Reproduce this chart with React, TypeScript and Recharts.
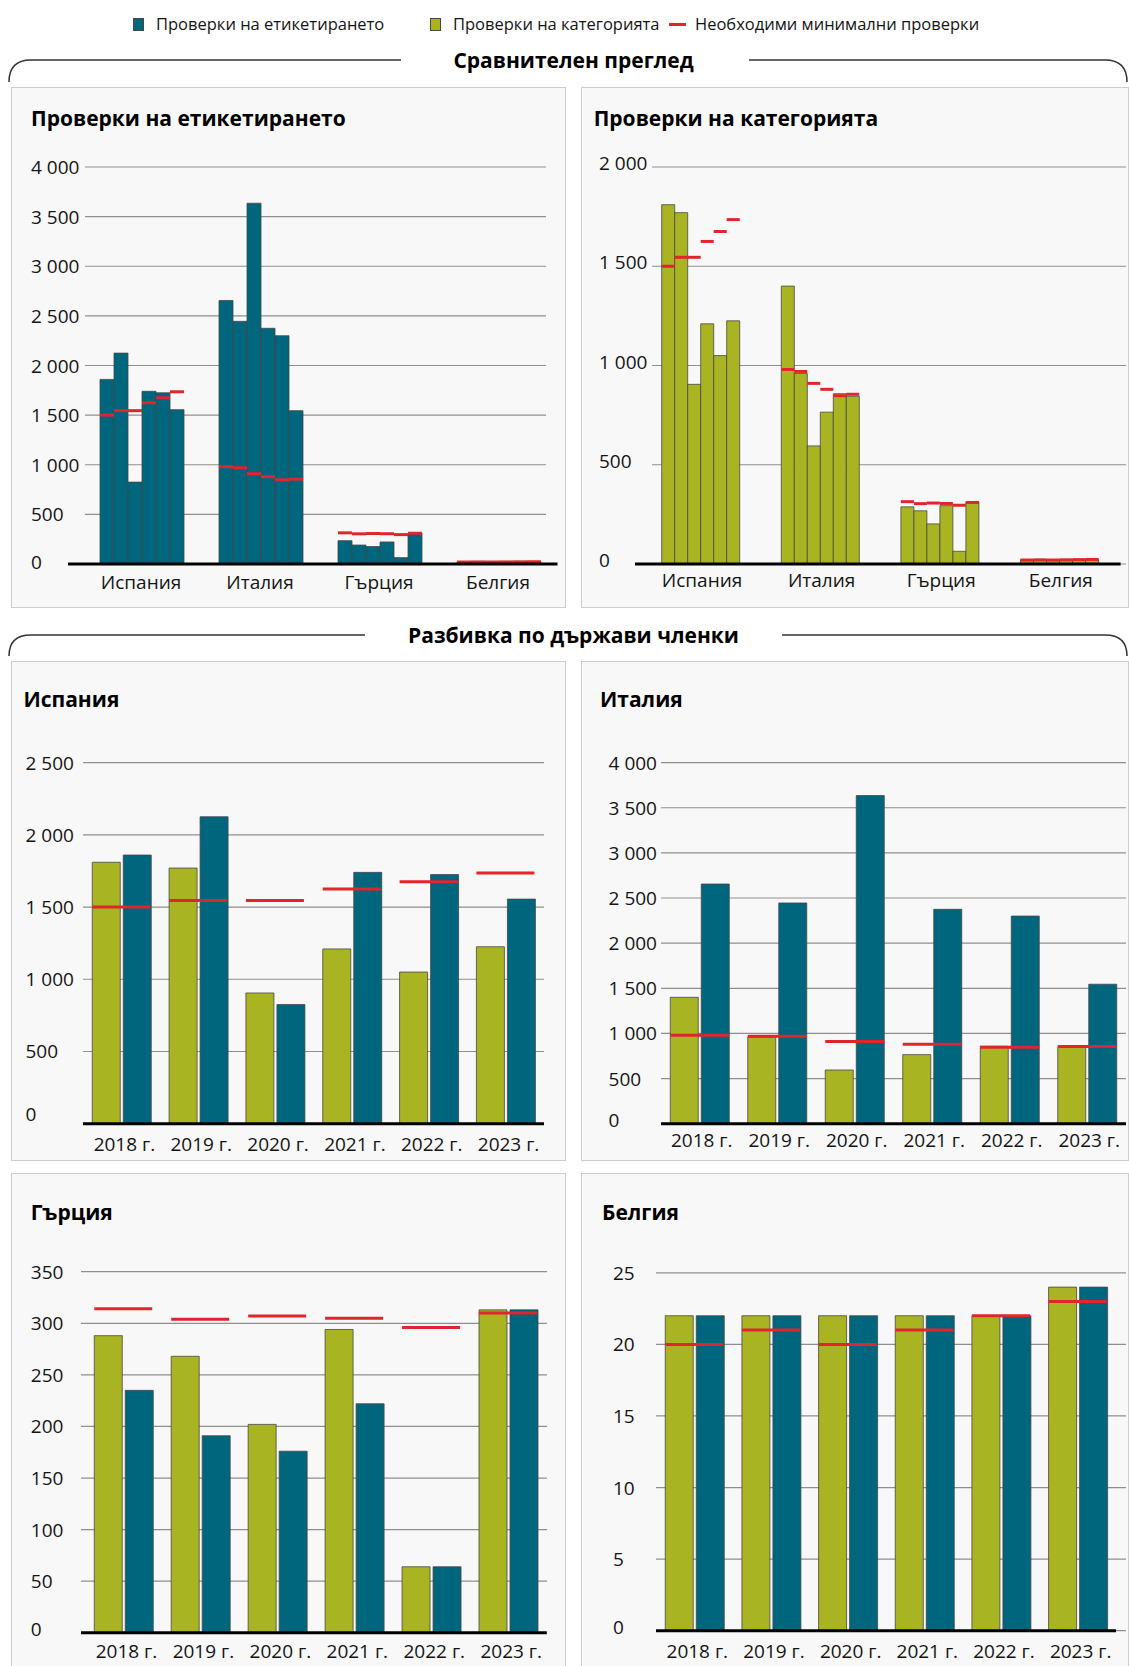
import React from 'react';
import { BarChart, Bar, XAxis, YAxis, CartesianGrid } from 'recharts';

const FONT = '"Open Sans", "Noto Sans", "DejaVu Sans", sans-serif';
const BLUE = '#00667d';
const GREEN = '#a8b421';
const RED = '#e0262d';
const OUTLINE = '#474747';
const TEXT = '#141414';

// ---------- data ----------
const years = ['2018 г.', '2019 г.', '2020 г.', '2021 г.', '2022 г.', '2023 г.'];
const countries = ['Испания', 'Италия', 'Гърция', 'Белгия'];

const spainCategory = [1810, 1770, 905, 1210, 1050, 1225];
const spainLabelling = [1860, 2125, 825, 1740, 1725, 1555];
const spainMinimum = [1500, 1545, 1545, 1625, 1675, 1735];

const italyCategory = [1400, 960, 595, 765, 858, 845];
const italyLabelling = [2655, 2445, 3635, 2375, 2300, 1545];
const italyMinimum = [980, 970, 910, 880, 848, 855];

const greeceCategory = [288, 268, 202, 294, 64, 313];
const greeceLabelling = [235, 191, 176, 222, 64, 313];
const greeceMinimum = [314, 304, 307, 305, 296, 310];

const belgiumCategory = [22, 22, 22, 22, 22, 24];
const belgiumLabelling = [22, 22, 22, 22, 22, 24];
const belgiumMinimum = [20, 21, 20, 21, 22, 23];

const labellingTicks = [0, 500, 1000, 1500, 2000, 2500, 3000, 3500, 4000];
const categoryTicks = [0, 500, 1000, 1500, 2000];
const spainTicks = [0, 500, 1000, 1500, 2000, 2500];
const italyTicks = [0, 500, 1000, 1500, 2000, 2500, 3000, 3500, 4000];
const greeceTicks = [0, 50, 100, 150, 200, 250, 300, 350];
const belgiumTicks = [0, 5, 10, 15, 20, 25];

const legendLabels = ['Проверки на етикетирането', 'Проверки на категорията', 'Необходими минимални проверки'];
const sectionTitles = ['Сравнителен преглед', 'Разбивка по държави членки'];
const overviewTitles = ['Проверки на етикетирането', 'Проверки на категорията'];

const countryCategory = [spainCategory, italyCategory, greeceCategory, belgiumCategory];
const countryLabelling = [spainLabelling, italyLabelling, greeceLabelling, belgiumLabelling];
const countryMinimum = [spainMinimum, italyMinimum, greeceMinimum, belgiumMinimum];

const buildOverview = (series: number[][]) =>
  countries.map((c, ci) => {
    const row: any = { country: c };
    years.forEach((_, yi) => {
      row[`v${yi}`] = series[ci][yi];
      row[`m${yi}`] = countryMinimum[ci][yi];
    });
    return row;
  });

const buildCountry = (ci: number) =>
  years.map((y, yi) => ({
    year: y,
    category: countryCategory[ci][yi],
    labelling: countryLabelling[ci][yi],
    minimum: countryMinimum[ci][yi],
  }));

const fmt = (v: number) =>
  v >= 1000 ? `${Math.floor(v / 1000)} ${String(v % 1000).padStart(3, '0')}` : String(v);

// ---------- shapes / ticks ----------
const DashShape = (p: any) => {
  const { x, y, width } = p;
  if (x == null || y == null) return <g />;
  return <line x1={x} x2={x + width} y1={y} y2={y} stroke={RED} strokeWidth={3} />;
};

const makeYTick = (labelX: number, dy: number, zeroDy: number) => (p: any) => {
  const v = p.payload.value;
  return (
    <text
      x={labelX}
      y={p.y + (v === 0 ? zeroDy : dy)}
      textAnchor="start"
      dominantBaseline="central"
      fontSize={19}
      fill={TEXT}
      fontFamily={FONT}
    >
      {fmt(v)}
    </text>
  );
};

const makeXTick = (dy: number, dx: number) => (p: any) => (
  <text
    x={p.x + dx}
    y={p.y + dy}
    textAnchor="middle"
    dominantBaseline="central"
    fontSize={19}
    fill={TEXT}
    fontFamily={FONT}
  >
    {p.payload.value}
  </text>
);

type Cfg = {
  width: number;
  height: number;
  top: number;
  plotLeft: number;
  plotRight: number;
  plotBottom: number;
  padLeft: number;
  padRight: number;
  gridX: number;
  gridW: number;
  gap: number;
  barGap: number;
  labelX: number;
  dy: number;
  zeroDy: number;
  xLabelDy: number;
  xLabelDx: number;
  ticks: number[];
  max: number;
};

function Chart({ cfg, data, catKey, series, minKeys }: { cfg: Cfg; data: any[]; catKey: string; series: { key: string; fill: string }[]; minKeys: string[] }) {
  const pad = { left: cfg.padLeft, right: cfg.padRight };
  return (
    <BarChart
      width={cfg.width}
      height={cfg.height}
      data={data}
      margin={{ top: cfg.top, right: cfg.width - cfg.plotRight, bottom: 0, left: 0 }}
      barCategoryGap={cfg.gap}
      barGap={cfg.barGap}
      style={{ fontFamily: FONT }}
    >
      <CartesianGrid vertical={false} stroke="#8f8f8f" strokeWidth={1.2} x={cfg.gridX} width={cfg.gridW} />
      <XAxis
        dataKey={catKey}
        height={cfg.height - cfg.plotBottom}
        padding={pad}
        tickLine={false}
        tickSize={0}
        tickMargin={0}
        interval={0}
        axisLine={{ stroke: '#000', strokeWidth: 3 }}
        tick={makeXTick(cfg.xLabelDy, cfg.xLabelDx)}
      />
      <XAxis xAxisId="m" dataKey={catKey} hide padding={pad} />
      <YAxis
        width={cfg.plotLeft}
        type="number"
        domain={[0, cfg.max]}
        ticks={cfg.ticks}
        interval={0}
        axisLine={false}
        tickLine={false}
        tick={makeYTick(cfg.labelX, cfg.dy, cfg.zeroDy)}
      />
      {series.map((s) => (
        <Bar key={s.key} dataKey={s.key} fill={s.fill} stroke={OUTLINE} strokeWidth={0.8} isAnimationActive={false} />
      ))}
      {minKeys.map((k) => (
        <Bar key={k} xAxisId="m" dataKey={k} shape={DashShape} isAnimationActive={false} />
      ))}
    </BarChart>
  );
}

function Panel({ left, top, width, height, title, titleX, titleY, children }: any) {
  return (
    <div style={{ position: 'absolute', left, top, width, height, background: '#f8f8f8' }}>
      <div style={{ position: 'absolute', left: 0, top: 0 }}>{children}</div>
      <div
        style={{
          position: 'absolute',
          left: titleX,
          top: titleY - 15,
          lineHeight: '30px',
          fontSize: 21,
          fontWeight: 700,
          whiteSpace: 'nowrap',
          color: '#000',
        }}
      >
        {title}
      </div>
      <div
        style={{
          position: 'absolute',
          left: 0,
          top: 0,
          width,
          height,
          boxSizing: 'border-box',
          border: '1.5px solid #cdcdcd',
          pointerEvents: 'none',
        }}
      />
    </div>
  );
}

const overviewSeries = (fill: string) => years.map((_, i) => ({ key: `v${i}`, fill }));
const overviewMins = years.map((_, i) => `m${i}`);
const countrySeries = [
  { key: 'category', fill: GREEN },
  { key: 'labelling', fill: BLUE },
];

const cfgTL: Cfg = { width: 555, height: 521, top: 80, plotLeft: 57, plotRight: 546.5, plotBottom: 477, padLeft: 13.5, padRight: 0, gridX: 74, gridW: 461, gap: 18.5, barGap: 0, labelX: 20, dy: 0, zeroDy: -2, xLabelDy: 18, xLabelDx: 0, ticks: labellingTicks, max: 4000 };
const cfgTR: Cfg = { width: 548, height: 521, top: 80, plotLeft: 54, plotRight: 539.6, plotBottom: 477, padLeft: 7.2, padRight: 0, gridX: 71, gridW: 474, gap: 19.5, barGap: 0, labelX: 18, dy: -4, zeroDy: -4, xLabelDy: 16, xLabelDx: 0, ticks: categoryTicks, max: 2000 };
const cfgES: Cfg = { width: 555, height: 500, top: 101.6, plotLeft: 72, plotRight: 533, plotBottom: 462.7, padLeft: 0, padRight: 0, gridX: 72, gridW: 461, gap: 9.25, barGap: 3, labelX: 14.5, dy: 0, zeroDy: -10, xLabelDy: 20, xLabelDx: 3, ticks: spainTicks, max: 2500 };
const cfgIT: Cfg = { width: 548, height: 500, top: 101.6, plotLeft: 80, plotRight: 545, plotBottom: 462.7, padLeft: 0, padRight: 0, gridX: 80, gridW: 465, gap: 9.25, barGap: 3, labelX: 27.6, dy: 0, zeroDy: -4, xLabelDy: 16, xLabelDx: 2, ticks: italyTicks, max: 4000 };
const cfgGR: Cfg = { width: 555, height: 494, top: 98.7, plotLeft: 70, plotRight: 535.7, plotBottom: 459.8, padLeft: 4, padRight: 0, gridX: 70, gridW: 466, gap: 9.25, barGap: 3, labelX: 19.8, dy: 0, zeroDy: -4, xLabelDy: 18, xLabelDx: 3, ticks: greeceTicks, max: 350 };
const cfgBE: Cfg = { width: 548, height: 494, top: 99.8, plotLeft: 75, plotRight: 535, plotBottom: 457.7, padLeft: 0, padRight: 0, gridX: 75, gridW: 470, gap: 9.25, barGap: 3, labelX: 32, dy: 0, zeroDy: -4, xLabelDy: 20, xLabelDx: 3, ticks: belgiumTicks, max: 25 };

function SectionTitle({ text, y }: { text: string; y: number }) {
  return (
    <div
      style={{
        position: 'absolute',
        left: 273.5,
        width: 600,
        top: y - 15,
        lineHeight: '30px',
        textAlign: 'center',
        fontSize: 21,
        fontWeight: 700,
        color: '#000',
      }}
    >
      {text}
    </div>
  );
}

export default function App() {
  const legendText = { position: 'absolute' as const, top: 13, lineHeight: '22px', fontSize: 16.5, whiteSpace: 'nowrap' as const, color: TEXT };
  return (
    <div style={{ position: 'absolute', left: 0, top: 0, width: 1129, height: 1666, overflow: 'hidden', background: '#fff', fontFamily: FONT, color: TEXT }}>
      {/* legend */}
      <div style={{ position: 'absolute', left: 133, top: 18, width: 11, height: 13, background: BLUE, border: `1px solid ${OUTLINE}`, boxSizing: 'border-box' }} />
      <div style={{ ...legendText, left: 156 }}>{legendLabels[0]}</div>
      <div style={{ position: 'absolute', left: 430, top: 18, width: 11, height: 13, background: GREEN, border: `1px solid ${OUTLINE}`, boxSizing: 'border-box' }} />
      <div style={{ ...legendText, left: 453 }}>{legendLabels[1]}</div>
      <div style={{ position: 'absolute', left: 669, top: 22.5, width: 17, height: 3, background: RED }} />
      <div style={{ ...legendText, left: 695 }}>{legendLabels[2]}</div>

      {/* section frames */}
      <svg width={1129} height={1666} style={{ position: 'absolute', left: 0, top: 0 }}>
        <path d="M 9 82 Q 9 60 31 60 L 401 60" fill="none" stroke="#333" strokeWidth={1.5} />
        <path d="M 749 60 L 1105 60 Q 1127 60 1127 82" fill="none" stroke="#333" strokeWidth={1.5} />
        <path d="M 9 656 Q 9 635 31 635 L 365 635" fill="none" stroke="#333" strokeWidth={1.5} />
        <path d="M 782 635 L 1105 635 Q 1127 635 1127 656" fill="none" stroke="#333" strokeWidth={1.5} />
      </svg>
      <SectionTitle text={sectionTitles[0]} y={60} />
      <SectionTitle text={sectionTitles[1]} y={635} />

      <Panel left={11} top={87} width={555} height={521} title={overviewTitles[0]} titleX={20} titleY={31}>
        <Chart cfg={cfgTL} data={buildOverview(countryLabelling)} catKey="country" series={overviewSeries(BLUE)} minKeys={overviewMins} />
      </Panel>
      <Panel left={581} top={87} width={548} height={521} title={overviewTitles[1]} titleX={12.7} titleY={31}>
        <Chart cfg={cfgTR} data={buildOverview(countryCategory)} catKey="country" series={overviewSeries(GREEN)} minKeys={overviewMins} />
      </Panel>

      <Panel left={11} top={661} width={555} height={500} title={countries[0]} titleX={12.4} titleY={38}>
        <Chart cfg={cfgES} data={buildCountry(0)} catKey="year" series={countrySeries} minKeys={['minimum']} />
      </Panel>
      <Panel left={581} top={661} width={548} height={500} title={countries[1]} titleX={19} titleY={38}>
        <Chart cfg={cfgIT} data={buildCountry(1)} catKey="year" series={countrySeries} minKeys={['minimum']} />
      </Panel>
      <Panel left={11} top={1172.6} width={555} height={494} title={countries[2]} titleX={19.8} titleY={39.4}>
        <Chart cfg={cfgGR} data={buildCountry(2)} catKey="year" series={countrySeries} minKeys={['minimum']} />
      </Panel>
      <Panel left={581} top={1172.6} width={548} height={494} title={countries[3]} titleX={21} titleY={39.4}>
        <Chart cfg={cfgBE} data={buildCountry(3)} catKey="year" series={countrySeries} minKeys={['minimum']} />
      </Panel>
    </div>
  );
}
